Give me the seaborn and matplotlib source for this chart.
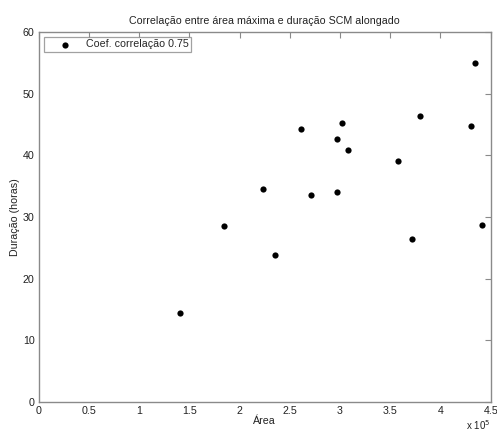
import matplotlib
matplotlib.use("Agg")
import matplotlib.pyplot as plt
import seaborn as sns
import pandas as pd
from matplotlib.ticker import FuncFormatter, MultipleLocator

area = [141100, 235000, 184300, 223700, 271200, 296800, 261200, 301800,
        296800, 307800, 358200, 380000, 371500, 430300, 433900, 441200]
duracao = [14.4, 23.8, 28.6, 34.6, 33.6, 34.0, 44.3, 45.2,
           42.6, 40.8, 39.1, 46.4, 26.4, 44.8, 54.9, 28.7]
legend_label = "Coef. correlação 0.75"
title = "Correlação entre área máxima e duração SCM alongado"

sns.set_style("white")
plt.rcParams['font.family'] = ['Liberation Sans', 'DejaVu Sans']

df = pd.DataFrame({"Área": area, "Duração (horas)": duracao})

fs = 7.7
fig = plt.figure(figsize=(4.97, 4.32), dpi=100)
ax = fig.add_axes([0.0779, 0.0694, 0.9094, 0.8565])
sns.scatterplot(data=df, x="Área", y="Duração (horas)", ax=ax, color="black",
                s=20, edgecolor="black", linewidth=0, label=legend_label)

ax.set_xlim(0, 450000)
ax.set_ylim(0, 60)
ax.xaxis.set_major_locator(MultipleLocator(50000))
ax.yaxis.set_major_locator(MultipleLocator(10))
ax.xaxis.set_major_formatter(FuncFormatter(lambda v, p: f"{v/1e5:g}"))

gray = "#8a8a8a"
for s in ax.spines.values():
    s.set_color(gray)
    s.set_linewidth(1.0)
ax.tick_params(direction="in", length=4, width=0.8, color=gray,
               top=True, right=True, labelsize=fs, labelcolor="#222222", pad=3)
ax.set_xlabel("Área", fontsize=fs, color="#222222", labelpad=0)
ax.set_ylabel("Duração (horas)", fontsize=fs, color="#222222", labelpad=2)
ax.set_title(title, fontsize=fs, color="#222222", pad=6)

fig.text(0.938, 0.004, r"x 10$^5$", fontsize=7, color="#222222")

leg = ax.legend(loc="upper left", frameon=True, fancybox=False, fontsize=fs,
                borderaxespad=0.45, handletextpad=0.1, borderpad=0.25,
                handlelength=3.6, markerscale=1.0)
leg.get_frame().set_edgecolor(gray)
leg.get_frame().set_linewidth(0.9)

fig.savefig("out.png", dpi=100, facecolor="white")
